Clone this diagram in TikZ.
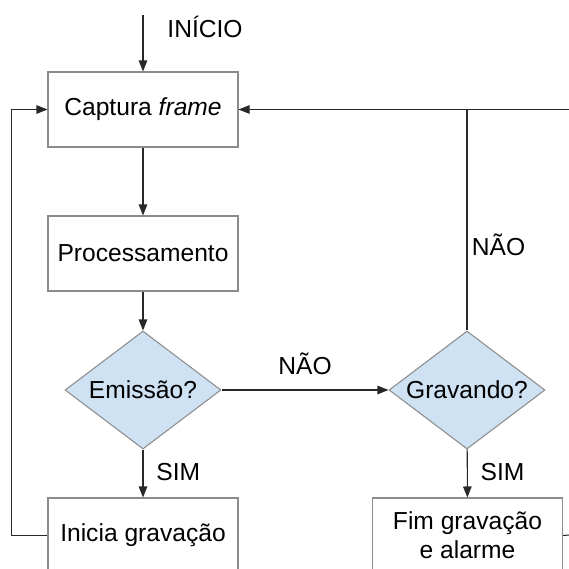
\documentclass[tikz,border=0pt]{standalone}
\usepackage{fontspec}
\setmainfont{Liberation Sans}
\usetikzlibrary{arrows.meta, shapes.geometric, positioning}
\definecolor{boxline}{RGB}{140,140,140}
\definecolor{decfill}{RGB}{207,226,243}
\definecolor{linecol}{RGB}{40,40,40}

\begin{document}
\begin{tikzpicture}[
  font=\fontsize{14}{16.5}\selectfont,
  procbox/.style={rectangle, draw=boxline, line width=0.6pt, fill=white,
                  minimum width=3.8cm, minimum height=1.5cm, align=center,
                  inner sep=0pt},
  decision/.style={diamond, draw=boxline, line width=0.6pt, fill=decfill,
                   minimum width=3.12cm, minimum height=2.36cm, aspect=1.32,
                   inner sep=0pt},
  arrow/.style={-{Triangle[length=0.22cm, width=0.17cm]}, line width=0.6pt,
                draw=linecol},
  line/.style={line width=0.6pt, draw=linecol}
]
\useasboundingbox (0,0) rectangle (11.38,-11.36);

% Blocks
\node[procbox] (cap)  at (2.86,-2.19)  {Captura \textit{frame}};
\node[procbox] (proc) at (2.86,-5.07)  {Processamento};
\node[decision] (emis) at (2.86,-7.8)  {Emissão?};
\node[decision] (grav) at (9.34,-7.8)  {Gravando?};
\node[procbox] (ini)  at (2.86,-10.71) {Inicia gravação};
\node[procbox] (fim)  at (9.35,-10.71) {Fim gravação\\e alarme};

% Free ends
\coordinate (start) at (2.86,-0.3);
\coordinate (rtop)  at (11.38,-2.19);
\coordinate (rout)  at (11.38,-10.7);
\coordinate (join)  at (grav.north |- cap.east);

% Arrows
\draw[arrow] (start) -- (cap);
\node (inicio) at (4.1,-0.54) {INÍCIO};
\foreach \a/\b in {cap/proc, proc/emis}
  \draw[arrow] (\a) -- (\b);
\draw[arrow] (emis) -- node[right=4pt, yshift=1pt] (sim1) {SIM} (ini);
\draw[arrow] (emis) -- node[above=5pt] (nao1) {NÃO} (grav);
\draw[arrow] (grav) -- node[right=4pt, yshift=1pt] (sim2) {SIM} (fim);

% Return paths
\draw[arrow] (rtop) -- (cap.east);
\draw[line] (grav.north) -- (join);
\node (nao2) at (9.97,-4.9) {NÃO};
\draw[arrow] (ini.west) -- ++(-0.72,0) |- (cap.west);
\draw[line] (fim.east) -- (rout);

\end{tikzpicture}
\end{document}
